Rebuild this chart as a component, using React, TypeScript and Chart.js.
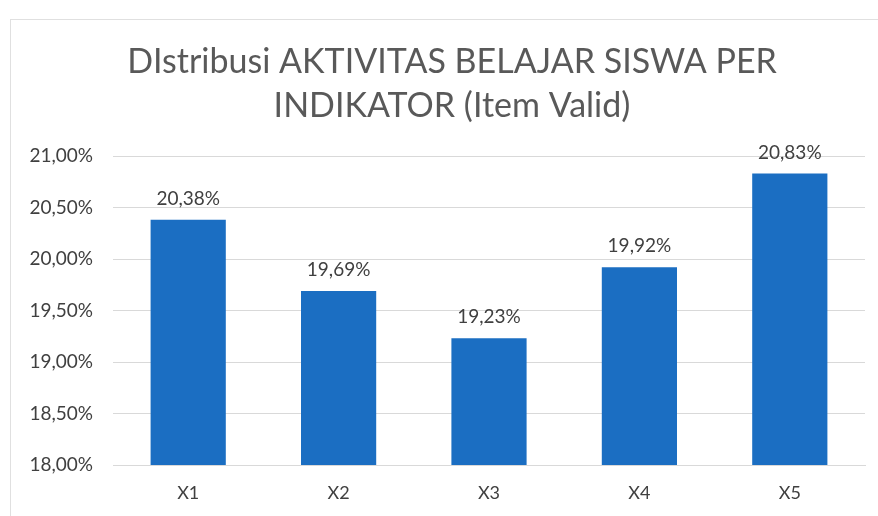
import React, { useEffect, useRef } from "react";
import { Chart, registerables } from "chart.js";

Chart.register(...registerables);

const categories = ["X1", "X2", "X3", "X4", "X5"];
const values = [20.38, 19.69, 19.23, 19.92, 20.83];
const titleLines = ["DIstribusi AKTIVITAS BELAJAR SISWA PER", "INDIKATOR (Item Valid)"];
const yMin = 18;
const yMax = 21;
const yStep = 0.5;

const fmt = (v: number) => v.toFixed(2).replace(".", ",") + "%";

const FONT = "Lato, 'Open Sans', sans-serif";

const labelPlugin = {
  id: "barLabels",
  afterDatasetsDraw(chart: any) {
    const ctx = chart.ctx;
    const meta = chart.getDatasetMeta(0);
    ctx.save();
    ctx.font = `19px ${FONT}`;
    ctx.fillStyle = "#404040";
    ctx.textAlign = "center";
    ctx.textBaseline = "alphabetic";
    meta.data.forEach((bar: any, i: number) => {
      ctx.fillText(fmt(values[i]), bar.x, bar.y - 15);
    });
    ctx.restore();
  },
};

const titlePlugin = {
  id: "customTitle",
  afterDraw(chart: any) {
    const ctx = chart.ctx;
    ctx.save();
    ctx.font = `34px ${FONT}`;
    ctx.fillStyle = "#595959";
    ctx.textAlign = "center";
    ctx.textBaseline = "alphabetic";
    const cx = 452;
    titleLines.forEach((line, i) => {
      ctx.fillText(line, cx, 73 + i * 44);
    });
    ctx.restore();
  },
};

export default function App() {
  const ref = useRef<HTMLCanvasElement>(null);
  useEffect(() => {
    if (!ref.current) return;
    const chart = new Chart(ref.current, {
      type: "bar",
      data: {
        labels: categories,
        datasets: [
          {
            data: values,
            backgroundColor: "#1b6ec2",
            barPercentage: 0.5,
            categoryPercentage: 1,
          },
        ],
      },
      options: {
        animation: false,
        responsive: false,
        maintainAspectRatio: false,
        layout: { padding: { left: 20, right: 13, top: 156, bottom: 0 } },
        plugins: {
          legend: { display: false },
          tooltip: { enabled: false },
          title: { display: false },
        },
        scales: {
          x: {
            grid: { display: false, drawTicks: false },
            border: { display: true, color: "#d9d9d9" },
            ticks: { color: "#404040", font: { family: FONT, size: 18 }, padding: 17 },
            afterFit: (scale: any) => {
              scale.height = 51;
            },
          },
          y: {
            min: yMin,
            max: yMax,
            grid: { color: "#d9d9d9", drawTicks: false },
            border: { display: false },
            ticks: {
              stepSize: yStep,
              color: "#404040",
              font: { family: FONT, size: 19 },
              padding: 20,
              callback: (v: any) => fmt(Number(v)),
            },
            afterFit: (scale: any) => {
              scale.width = 93;
            },
          },
        },
      },
      plugins: [labelPlugin, titlePlugin],
    });
    return () => chart.destroy();
  }, []);
  return (
    <div style={{ position: "fixed", left: 0, top: 0, width: 878, height: 516, background: "#fff", overflow: "hidden" }}>
      <div style={{ position: "absolute", left: 10, top: 19, width: 880, height: 520, border: "1px solid #e0e0e0" }} />
      <canvas ref={ref} width={878} height={516} style={{ position: "absolute", left: 0, top: 0 }} />
    </div>
  );
}
